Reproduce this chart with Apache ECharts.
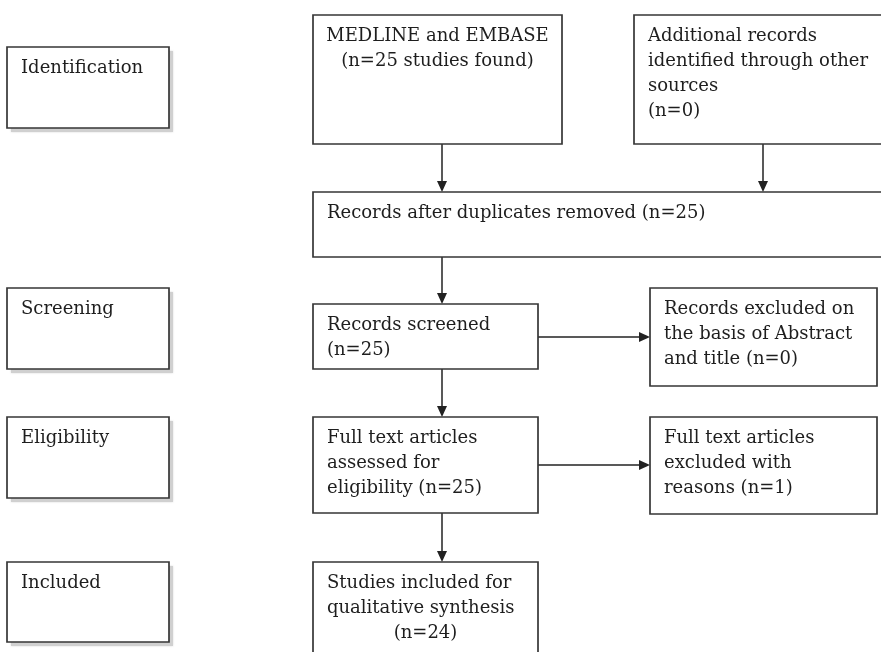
<!DOCTYPE html>
<html>
<head>
    <meta charset="utf-8" />
    <title>PRISMA flow</title>
    <script src="https://cdn.jsdelivr.net/npm/echarts@6/dist/echarts.min.js"></script>
    <style>
        html, body { margin: 0; padding: 0; background: #fff; }
    </style>
</head>
<body>
<div id="main" style="width: 881px;height:652px;"></div>
<script type="text/javascript">
    // stage labels on the left
    var stages = ['Identification', 'Screening', 'Eligibility', 'Included'];
    // study counts, one per flow box
    var counts = [25, 0, 25, 25, 0, 25, 1, 24];
    // text lines of the flow boxes, {n} is filled from counts
    var boxLines = [
        ['MEDLINE and EMBASE', '(n={n} studies found)'],
        ['Additional records', 'identified through other', 'sources', '(n={n})'],
        ['Records after duplicates removed (n={n})'],
        ['Records screened', '(n={n})'],
        ['Records excluded on', 'the basis of Abstract', 'and title (n={n})'],
        ['Full text articles', 'assessed for', 'eligibility (n={n})'],
        ['Full text articles', 'excluded with', 'reasons (n={n})'],
        ['Studies included for', 'qualitative synthesis', '(n={n})']
    ];
    // which lines are centred in each flow box
    var centerLines = [[0, 1], [], [], [], [], [], [], [2]];

    // layout in page units (x0, y0, x1, y1), mapped through the hidden axes
    var stageRects = [[7, 47, 169, 128], [7, 288, 169, 369], [7, 417, 169, 498], [7, 562, 169, 642]];
    var boxRects = [
        [313, 15, 562, 144], [634, 15, 890, 144], [313, 192, 890, 257],
        [313, 304, 538, 369], [650, 288, 877, 386], [313, 417, 538, 513],
        [650, 417, 877, 514], [313, 562, 538, 662]
    ];
    var arrows = [
        [442, 144, 442, 192], [763, 144, 763, 192], [442, 257, 442, 304],
        [538, 337, 650, 337], [442, 369, 442, 417], [538, 465, 650, 465],
        [442, 513, 442, 562]
    ];

    var FONT = '18px "DejaVu Serif"';
    var TEXT_COLOR = '#1e1e1e';
    var LINE_COLOR = '#363636';
    var LINE_H = 25;

    function textEl(str, x, y, align) {
        return {
            type: 'text',
            style: {
                text: str, x: x, y: y, font: FONT, fill: TEXT_COLOR,
                align: align, verticalAlign: 'middle'
            }
        };
    }

    function boxRender(withShadow, getLines) {
        return function (params, api) {
            var p0 = api.coord([api.value(0), api.value(1)]);
            var p1 = api.coord([api.value(2), api.value(3)]);
            var w = p1[0] - p0[0], h = p1[1] - p0[1];
            var children = [];
            if (withShadow) {
                children.push({
                    type: 'rect',
                    shape: { x: p0[0] + 4, y: p0[1] + 4, width: w, height: h },
                    style: { fill: '#d0d0d0', shadowBlur: 2, shadowColor: 'rgba(0,0,0,0.15)' }
                });
            }
            children.push({
                type: 'rect',
                shape: { x: p0[0], y: p0[1], width: w, height: h },
                style: { fill: '#fff', stroke: LINE_COLOR, lineWidth: 1.7 }
            });
            var info = getLines(params.dataIndex);
            info.lines.forEach(function (ln, i) {
                var y = p0[1] + 21 + i * LINE_H;
                if (info.center.indexOf(i) >= 0) {
                    children.push(textEl(ln, p0[0] + w / 2, y, 'center'));
                } else {
                    children.push(textEl(ln, p0[0] + 14, y, 'left'));
                }
            });
            return { type: 'group', children: children };
        };
    }

    var myChart = echarts.init(document.getElementById('main'));

    var option = {
        animation: false,
        backgroundColor: '#fff',
        grid: { left: 0, right: 0, top: 0, bottom: 0 },
        xAxis: { type: 'value', min: 0, max: 881, show: false },
        yAxis: { type: 'value', min: 0, max: 652, inverse: true, show: false },
        series: [
            {
                // arrows
                type: 'custom',
                data: arrows,
                silent: true,
                renderItem: function (params, api) {
                    var a = api.coord([api.value(0), api.value(1)]);
                    var b = api.coord([api.value(2), api.value(3)]);
                    var dx = b[0] - a[0], dy = b[1] - a[1];
                    var len = Math.sqrt(dx * dx + dy * dy);
                    var ux = dx / len, uy = dy / len;
                    var hl = 11, hw = 5;
                    var bx = b[0] - ux * hl, by = b[1] - uy * hl;
                    return {
                        type: 'group',
                        children: [
                            {
                                type: 'line',
                                shape: { x1: a[0], y1: a[1], x2: bx, y2: by },
                                style: { stroke: '#222', lineWidth: 1.5 }
                            },
                            {
                                type: 'polygon',
                                shape: { points: [[b[0], b[1]], [bx - uy * hw, by + ux * hw], [bx + uy * hw, by - ux * hw]] },
                                style: { fill: '#222' }
                            }
                        ]
                    };
                }
            },
            {
                // stage boxes on the left
                type: 'custom',
                data: stageRects,
                silent: true,
                renderItem: boxRender(true, function (i) {
                    return { lines: [stages[i]], center: [] };
                })
            },
            {
                // flow boxes
                type: 'custom',
                data: boxRects,
                silent: true,
                renderItem: boxRender(false, function (i) {
                    return {
                        lines: boxLines[i].map(function (s) { return s.replace('{n}', counts[i]); }),
                        center: centerLines[i]
                    };
                })
            }
        ]
    };
    myChart.setOption(option);
</script>
</body>
</html>
